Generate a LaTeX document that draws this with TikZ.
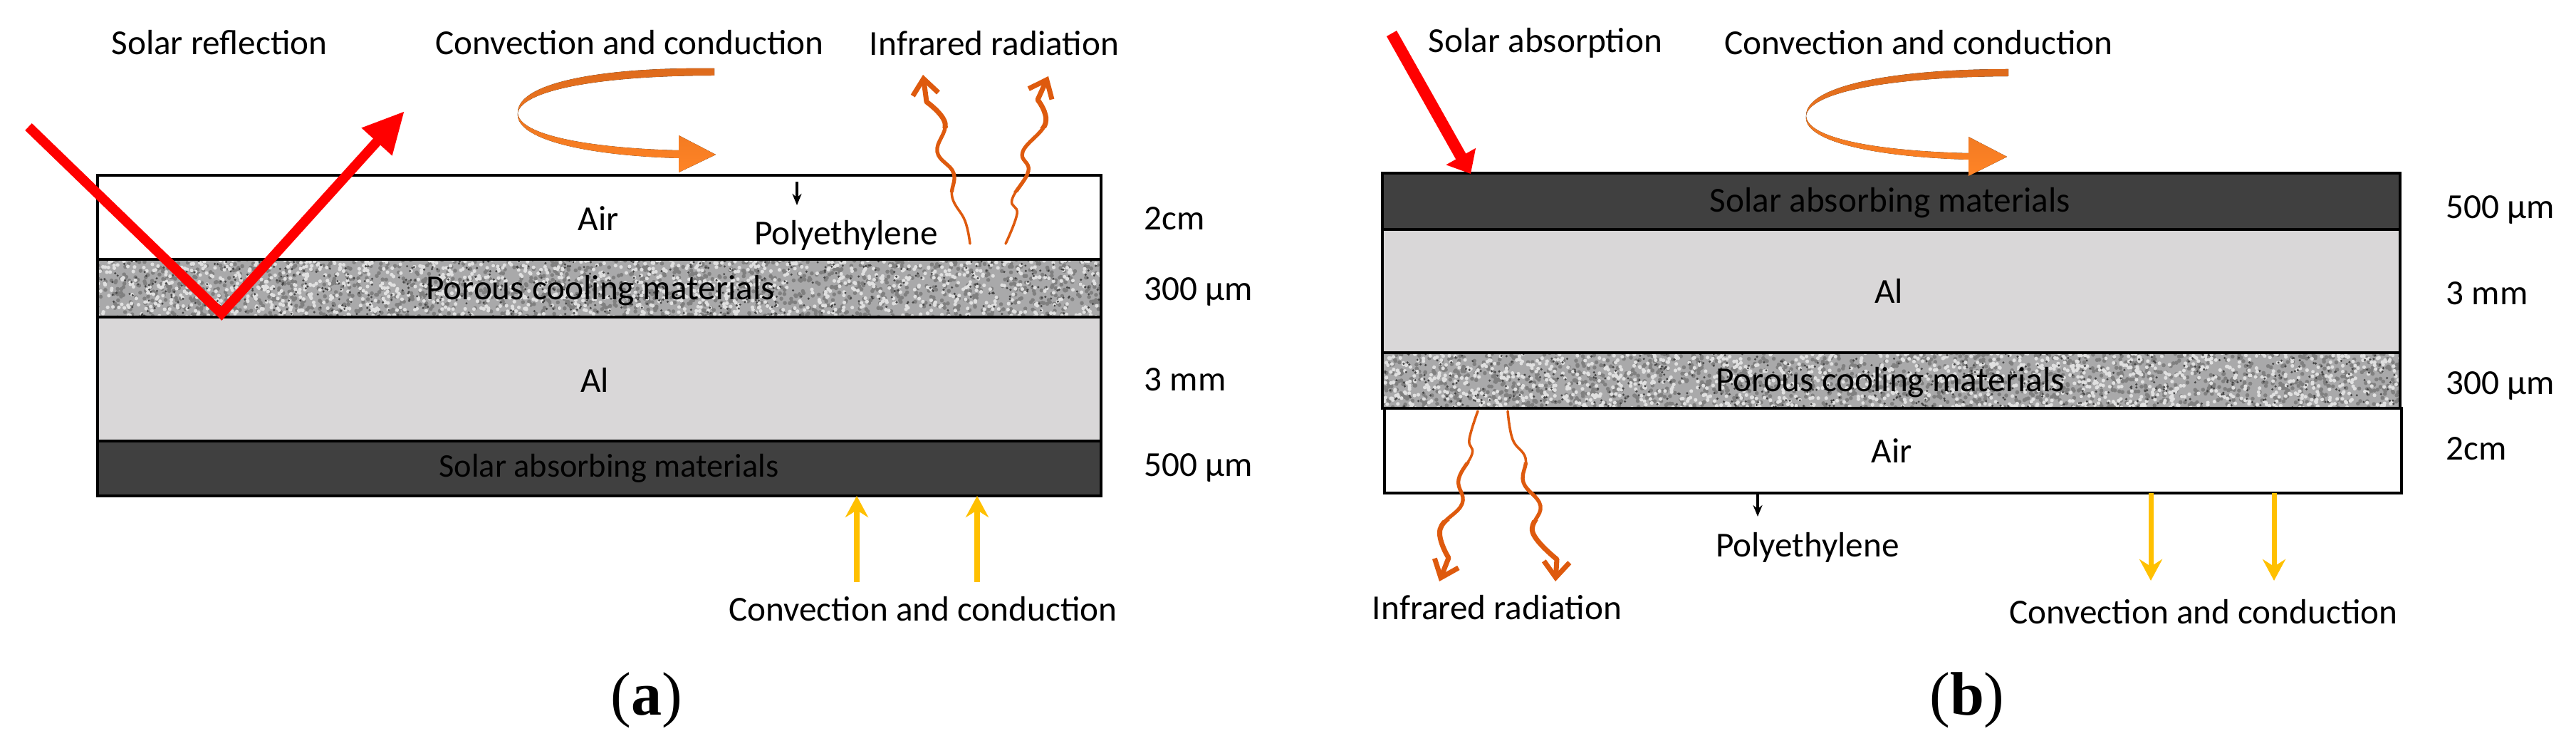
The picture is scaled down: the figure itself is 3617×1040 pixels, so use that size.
\documentclass[tikz,border=0pt]{standalone}
\usepackage{fontspec}
\setmainfont{Carlito}
\newfontfamily\capfont{Liberation Serif}
\usetikzlibrary{arrows.meta}
\definecolor{darklayer}{HTML}{404040}
\definecolor{allayer}{HTML}{D9D7D8}
\definecolor{porebase}{HTML}{A9A9AA}
\definecolor{solarred}{HTML}{FF0000}
\definecolor{heatyellow}{HTML}{FFC000}
\definecolor{irorange}{HTML}{DE5A0E}
\definecolor{convtop}{HTML}{DD6A1C}
\definecolor{convbot}{HTML}{FF8426}
\tikzset{
  lbl/.style={font=\fontsize{14}{16}\selectfont,inner sep=0pt,text=black},
  captext/.style={font=\capfont\fontsize{24.5}{27}\selectfont,inner sep=0pt},
  layer/.style={draw=black,line width=1.4pt},
  heatarrow/.style={heatyellow,line width=2pt,-{Stealth[length=0.3cm,width=0.32cm,inset=0.1cm]}},
  thinarrow/.style={black,line width=0.9pt,-{Stealth[length=0.16cm,width=0.13cm]}},
  irline/.style={irorange,line cap=round,line join=round}
}
\def\porous#1#2#3#4{%
  \fill[porebase] (#1,#3) rectangle (#2,#4);
  \begin{scope}
    \clip (#1,#3) rectangle (#2,#4);
    \fill[black!50] \foreach \i in {1,...,1500}{({#1+rnd*(#2-#1)},{#3+rnd*(#4-#3)}) circle (2.8)};
    \fill[white!88!black] \foreach \i in {1,...,1300}{({#1+rnd*(#2-#1)},{#3+rnd*(#4-#3)}) circle (2.6)};
    \fill[black!72] \foreach \i in {1,...,600}{({#1+rnd*(#2-#1)},{#3+rnd*(#4-#3)}) circle (1.7)};
  \end{scope}
}
% one wave: the points, its tip, then the two bands (y from, y to) where it gets wider
\def\irwave#1#2#3#4#5#6{%
  \draw[irline,line width=1pt] plot[smooth,tension=0.7] coordinates {#1};
  \begin{scope}
    \clip (0,#3) rectangle (3617,#4);
    \draw[irline,line width=1.5pt] plot[smooth,tension=0.7] coordinates {#1};
  \end{scope}
  \begin{scope}
    \clip (0,#5) rectangle (3617,#6);
    \draw[irline,line width=2pt,-{Straight Barb[length=0.22cm,width=0.36cm]}] plot[smooth,tension=0.7] coordinates {#1} -- #2;
  \end{scope}
}
\begin{document}
\begin{tikzpicture}[x=0.01cm,y=-0.01cm]
    \useasboundingbox (0,0) rectangle (3617,1040);
    \pgfmathsetseed{4242}
    % left stack
    \draw[layer,fill=white] (137,246) rectangle (1546,364);
    \porous{137}{1546}{364}{445}
    \draw[layer,fill=allayer] (137,445) rectangle (1546,619);
    \draw[layer,fill=darklayer] (137,619) rectangle (1546,696);
    \draw[layer] (137,364) rectangle (1546,445);
    \node[lbl] (aira) at (840,307) {Air};
    \node[lbl] (porousa) at (843,408) {Porous cooling materials};
    \node[lbl] (ala) at (835,533) {Al};
    \node[lbl,font=\fontsize{13.2}{16}\selectfont] (absorba) at (855,657) {Solar absorbing materials};
    \node[lbl] (polya) at (1188,330) {Polyethylene};
    \node[lbl,anchor=west] (twocma) at (1606,307) {2cm};
    \node[lbl,anchor=west] (poresizea) at (1606,409) {300 µm};
    \node[lbl,anchor=west] (alsizea) at (1606,533) {3 mm};
    \node[lbl,anchor=west] (absorbsizea) at (1606,656) {500 µm};
    \node[lbl] (reflecta) at (308,60) {Solar reflection};
    \node[lbl] (convtopa) at (884,60) {Convection and conduction};
    \node[lbl] (irtopa) at (1396,61) {Infrared radiation};
    \node[lbl] (convbota) at (1296,855) {Convection and conduction};
    \node[captext] (capa) at (908,983) {(\textbf{a})};
    % reflected beam
    \coordinate (beamin) at (40,178);
    \coordinate (beamlow) at (311,440);
    \coordinate (beamout) at (568,156);
    \draw[solarred,line width=3.9pt,miter limit=10,-{Triangle[length=0.58cm,width=0.54cm]}] (beamin)--(beamlow)--(beamout);
    % convection swirl
    \fill[top color=convtop,bottom color=convbot,shading angle=0] (1003,96)..controls (850,94) and (727,115)..(727,158)
        ..controls (727,190) and (830,208)..(953,211)--(953,190)--(1005,217)--(953,242)--(953,222)
        ..controls (820,218) and (722,195)..(727,158)
        ..controls (735,125) and (850,106)..(1003,106)--cycle;
    % infrared waves
    \irwave{(1362,342)(1355,310)(1337,277)(1339,243)(1316,213)(1327,173)(1301,143)}{(1296,105)}{180}{270}{90}{180}
    \irwave{(1412,342)(1428,300)(1421,280)(1444,240)(1436,213)(1468,173)(1457,140)}{(1472,107)}{180}{270}{90}{180}
    \coordinate (polytipa) at (1119,288);
    \coordinate (polystarta) at (1119,255);
    \draw[thinarrow] (polystarta)--(polytipa);
    \coordinate (heata) at (1203,817);
    \coordinate (heatb) at (1372,817);
    \coordinate (heatatip) at (1203,696);
    \coordinate (heatbtip) at (1372,696);
    \draw[heatarrow] (heata)--(heatatip);
    \draw[heatarrow] (heatb)--(heatbtip);
    % right stack
    \draw[layer,fill=darklayer] (1941,243) rectangle (3370,322);
    \draw[layer,fill=allayer] (1941,322) rectangle (3370,495);
    \porous{1941}{3370}{495}{573}
    \draw[layer] (1941,495) rectangle (3370,573);
    \draw[layer,fill=white] (1944,573) rectangle (3372,692);
    \node[lbl] (absorbb) at (2654,285) {Solar absorbing materials};
    \node[lbl] (alb) at (2652,408) {Al};
    \node[lbl] (porousb) at (2654,537) {Porous cooling materials};
    \node[lbl] (airb) at (2656,633) {Air};
    \node[lbl] (polyb) at (2538,768) {Polyethylene};
    \node[lbl,anchor=west] (absorbsizeb) at (3434,294) {500 µm};
    \node[lbl,anchor=west] (alsizeb) at (3434,412) {3 mm};
    \node[lbl,anchor=west] (poresizeb) at (3434,541) {300 µm};
    \node[lbl,anchor=west] (twocmb) at (3434,630) {2cm};
    \node[lbl] (absorptb) at (2170,60) {Solar absorption};
    \node[lbl] (convtopb) at (2694,60) {Convection and conduction};
    \node[lbl] (irbotb) at (2102,853) {Infrared radiation};
    \node[lbl] (convbotb) at (3094,859) {Convection and conduction};
    \node[captext] (capb) at (2762,983) {(\textbf{b})};
    % absorbed beam
    \coordinate (sunin) at (1954,47);
    \coordinate (sunhit) at (2065,244);
    \draw[solarred,line width=4.6pt,-{Triangle[length=0.28cm,width=0.46cm]}] (sunin)--(sunhit);
    \fill[top color=convtop,bottom color=convbot,shading angle=0] (2820,97)..controls (2660,97) and (2536,120)..(2536,162)
        ..controls (2536,195) and (2640,212)..(2764,215)--(2764,192)--(2818,220)--(2764,247)--(2764,224)
        ..controls (2630,220) and (2530,198)..(2536,162)
        ..controls (2542,128) and (2660,108)..(2820,107)--cycle;
    \irwave{(2075,577)(2063,617)(2067,637)(2048,673)(2053,707)(2022,743)(2034,783)}{(2021,816)}{650}{730}{730}{830}
    \irwave{(2117,577)(2124,617)(2142,643)(2139,677)(2163,710)(2152,747)(2186,785)}{(2184,816)}{650}{730}{730}{830}
    \coordinate (polystartb) at (2468,692);
    \coordinate (polytipb) at (2468,725);
    \draw[thinarrow] (polystartb)--(polytipb);
    \coordinate (heatc) at (3020,692);
    \coordinate (heatd) at (3193,692);
    \coordinate (heatctip) at (3020,815);
    \coordinate (heatdtip) at (3193,815);
    \draw[heatarrow] (heatc)--(heatctip);
    \draw[heatarrow] (heatd)--(heatdtip);
\end{tikzpicture}
\end{document}
